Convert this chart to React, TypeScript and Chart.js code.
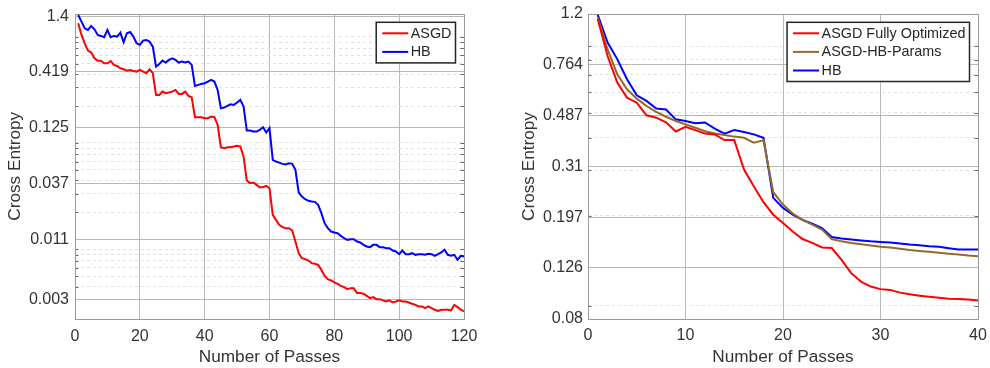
import React, { useEffect, useRef } from 'react';
import { Chart, registerables } from 'chart.js';

Chart.register(...registerables);

const FONT = '"Liberation Sans", Arial, Helvetica, sans-serif';
const TEXT = '#333333';
const GRID = '#b8b8b8';
const MINOR = '#e0e0e0';
const BOX = '#9a9a9a';

// ---------- Left panel data ----------
const leftPasses = Array.from({ length: 120 }, (_, i) => i + 1);
const leftAsgd = [
  1.202, 0.934, 0.779, 0.665, 0.637, 0.563, 0.535, 0.535, 0.505, 0.505,
  0.531, 0.488, 0.477, 0.453, 0.444, 0.431, 0.437, 0.428, 0.422, 0.437,
  0.422, 0.407, 0.444, 0.407, 0.2544, 0.2544, 0.2735, 0.2638, 0.2677, 0.2735,
  0.2836, 0.2601, 0.2601, 0.2735, 0.249, 0.2419, 0.1569, 0.1569, 0.1569, 0.1535,
  0.1535, 0.1592, 0.1569, 0.1329, 0.0819, 0.0802, 0.0819, 0.0819, 0.0831, 0.0843,
  0.0831, 0.0669, 0.0398, 0.0376, 0.0381, 0.0362, 0.0344, 0.0344, 0.0355, 0.0337,
  0.01891, 0.01697, 0.01523, 0.01448, 0.01417, 0.01417, 0.01347, 0.01061, 0.00824, 0.0074,
  0.00724, 0.00703, 0.00664, 0.00654, 0.0064, 0.00574, 0.00504, 0.00469, 0.00456, 0.00437,
  0.00424, 0.00406, 0.00395, 0.00378, 0.00386, 0.00386, 0.00347, 0.00347, 0.00342, 0.00327,
  0.00311, 0.00318, 0.00304, 0.00304, 0.00296, 0.00289, 0.00296, 0.00283, 0.00289, 0.00296,
  0.00289, 0.00289, 0.00283, 0.00275, 0.00269, 0.0026, 0.0026, 0.0025, 0.0026, 0.0025,
  0.00242, 0.00236, 0.00242, 0.00242, 0.00242, 0.00238, 0.00269, 0.00256, 0.00242, 0.00233,
];
const leftHb = [
  1.44, 1.246, 1.079, 1.04, 1.135, 1.056, 0.934, 0.914, 0.888, 1.04,
  0.888, 0.914, 0.901, 0.982, 0.796, 0.968, 0.996, 0.901, 0.779, 0.752,
  0.826, 0.838, 0.808, 0.725, 0.47, 0.498, 0.535, 0.513, 0.543, 0.563,
  0.543, 0.513, 0.524, 0.513, 0.524, 0.488, 0.3093, 0.3161, 0.323, 0.3278,
  0.3398, 0.3522, 0.3398, 0.2836, 0.1907, 0.1935, 0.2005, 0.2079, 0.2049, 0.2156,
  0.2284, 0.1977, 0.1175, 0.1175, 0.115, 0.115, 0.1192, 0.1263, 0.1126, 0.1236,
  0.0622, 0.06, 0.0587, 0.0571, 0.0563, 0.0579, 0.0571, 0.0501, 0.0307, 0.0281,
  0.02655, 0.02562, 0.02525, 0.02507, 0.02348, 0.01961, 0.01579, 0.01417, 0.01318, 0.0129,
  0.01272, 0.012, 0.01141, 0.011, 0.01116, 0.01116, 0.01061, 0.01039, 0.00987, 0.00953,
  0.00939, 0.00987, 0.00987, 0.00939, 0.00939, 0.00919, 0.00919, 0.00873, 0.00855, 0.00806,
  0.00873, 0.00806, 0.00806, 0.00824, 0.00795, 0.00806, 0.00806, 0.00795, 0.00812, 0.00806,
  0.00778, 0.00806, 0.00836, 0.00886, 0.00795, 0.00778, 0.00795, 0.00713, 0.00778, 0.00767,
];
const leftYTicks = [1.4, 0.419, 0.125, 0.037, 0.011, 0.003];
const leftYLabels = ['1.4', '0.419', '0.125', '0.037', '0.011', '0.003'];

// ---------- Right panel data ----------
const rightPasses = Array.from({ length: 40 }, (_, i) => i + 1);
const rightAsgdFull = [
  1.148, 0.828, 0.653, 0.571, 0.546, 0.488, 0.478, 0.459, 0.423, 0.441,
  0.428, 0.415, 0.412, 0.392, 0.392, 0.3017, 0.26, 0.2256, 0.202, 0.1876,
  0.174, 0.1627, 0.1572, 0.151, 0.1502, 0.1353, 0.1202, 0.1115, 0.1067, 0.1043,
  0.1036, 0.1011, 0.0996, 0.0984, 0.0974, 0.0966, 0.0958, 0.0955, 0.0952, 0.0943,
];
const rightAsgdHbParams = [
  1.165, 0.878, 0.703, 0.615, 0.566, 0.53, 0.503, 0.482, 0.464, 0.4505,
  0.437, 0.424, 0.415, 0.41, 0.404, 0.4, 0.383, 0.391, 0.2466, 0.221,
  0.204, 0.193, 0.1849, 0.1769, 0.1627, 0.1594, 0.1572, 0.1554, 0.1537, 0.1519,
  0.151, 0.1494, 0.1476, 0.1464, 0.1452, 0.144, 0.1428, 0.1417, 0.1406, 0.1398,
];
const rightHb = [
  1.19, 0.933, 0.804, 0.672, 0.583, 0.555, 0.518, 0.514, 0.471, 0.464,
  0.455, 0.458, 0.434, 0.415, 0.428, 0.421, 0.412, 0.4, 0.2345, 0.2145,
  0.202, 0.193, 0.1865, 0.1795, 0.1656, 0.1636, 0.1621, 0.1607, 0.1594, 0.1585,
  0.1577, 0.1563, 0.1549, 0.154, 0.1527, 0.1519, 0.15, 0.1484, 0.1484, 0.1484,
];
const rightYTicks = [1.2, 0.764, 0.487, 0.31, 0.197, 0.126, 0.08];
const rightYLabels = ['1.2', '0.764', '0.487', '0.31', '0.197', '0.126', '0.08'];

type Series = { label: string; color: string; values: number[] };

interface PanelCfg {
  passes: number[];
  series: Series[];
  xMax: number;
  xStep: number;
  yMin: number;
  yMax: number;
  yTicks: number[];
  yLabels: string[];
  yAxisW: number;
  xAxisH: number;
  padRight: number;
  padTop: number;
  yTitlePad: number;
  xTickPad: number;
  yTickPad: number;
}

function minorValues(min: number, max: number, majors: number[]) {
  const out: number[] = [];
  for (let k = -5; k <= 2; k++) {
    for (let m = 2; m <= 9; m++) {
      const v = m * Math.pow(10, k);
      if (v > min && v < max && !majors.some((t) => Math.abs(t - v) / t < 1e-6)) out.push(v);
    }
  }
  return out;
}

function buildConfig(cfg: PanelCfg): any {
  const isMajor = (v: number) => cfg.yTicks.some((t) => Math.abs(t - v) / t < 1e-6);
  const minors = minorValues(cfg.yMin, cfg.yMax, cfg.yTicks);
  const allTicks = [...cfg.yTicks, ...minors].sort((a, b) => a - b);

  const boxPlugin = {
    id: 'boxPlugin',
    beforeDatasetsDraw(chart: any) {
      const { ctx, chartArea: ca } = chart;
      const ys = chart.scales.y;
      ctx.save();
      ctx.strokeStyle = '#666666';
      ctx.lineWidth = 1;
      ys.ticks.forEach((t: any) => {
        if (isMajor(t.value)) return;
        const py = Math.round(ys.getPixelForValue(t.value)) + 0.5;
        ctx.beginPath();
        ctx.moveTo(ca.left, py);
        ctx.lineTo(ca.left + 3.5, py);
        ctx.moveTo(ca.right, py);
        ctx.lineTo(ca.right - 3.5, py);
        ctx.stroke();
      });
      ctx.strokeStyle = BOX;
      ctx.lineWidth = 1;
      ctx.strokeRect(
        Math.round(ca.left) + 0.5,
        Math.round(ca.top) + 0.5,
        Math.round(ca.right - ca.left),
        Math.round(ca.bottom - ca.top)
      );
      ctx.restore();
    },
  };

  const legendPlugin = {
    id: 'boxLegend',
    afterDraw(chart: any) {
      const { ctx, chartArea: ca } = chart;
      const items = chart.data.datasets.map((d: any) => ({ label: d.label, color: d.borderColor }));
      ctx.save();
      ctx.font = `14.4px ${FONT}`;
      const tw = Math.max(...items.map((i: any) => ctx.measureText(i.label).width));
      const w = 6 + 26 + 2.5 + tw + 4;
      const rowH = 18.6;
      const h = 22 + (items.length - 1) * rowH;
      const x0 = ca.right - 8.5 - w;
      const y0 = ca.top + 8.3;
      ctx.fillStyle = '#ffffff';
      ctx.fillRect(x0, y0, w, h);
      ctx.strokeStyle = '#262626';
      ctx.lineWidth = 1.5;
      ctx.strokeRect(x0, y0, w, h);
      items.forEach((it: any, i: number) => {
        const yy = y0 + 11 + i * rowH;
        ctx.strokeStyle = it.color;
        ctx.lineWidth = 2;
        ctx.beginPath();
        ctx.moveTo(x0 + 6, yy);
        ctx.lineTo(x0 + 32, yy);
        ctx.stroke();
        ctx.fillStyle = '#262626';
        ctx.textBaseline = 'middle';
        ctx.textAlign = 'left';
        ctx.fillText(it.label, x0 + 34.5, yy + 0.5);
      });
      ctx.restore();
    },
  };

  return {
    type: 'line',
    data: {
      datasets: cfg.series.map((s) => ({
        label: s.label,
        data: cfg.passes.map((p, i) => ({ x: p, y: s.values[i] })),
        borderColor: s.color,
        backgroundColor: s.color,
        borderWidth: 2,
        pointRadius: 0,
        tension: 0,
        fill: false,
      })),
    },
    options: {
      responsive: false,
      animation: false,
      devicePixelRatio: 1,
      layout: { padding: { left: 0, right: cfg.padRight, top: cfg.padTop, bottom: 0 } },
      plugins: { legend: { display: false }, tooltip: { enabled: false } },
      scales: {
        x: {
          type: 'linear',
          min: 0,
          max: cfg.xMax,
          afterFit: (s: any) => {
            s.height = cfg.xAxisH;
            s.paddingLeft = 0;
            s.paddingRight = 0;
          },
          ticks: {
            stepSize: cfg.xStep,
            color: TEXT,
            font: { family: FONT, size: 16 },
            padding: cfg.xTickPad,
            maxRotation: 0,
            autoSkip: false,
          },
          grid: { color: GRID, lineWidth: 1, drawTicks: false },
          border: { display: false },
          title: {
            display: true,
            text: 'Number of Passes',
            color: TEXT,
            font: { family: FONT, size: 17.2 },
            padding: { top: 0, bottom: 0.7 },
          },
        },
        y: {
          type: 'logarithmic',
          min: cfg.yMin,
          max: cfg.yMax,
          afterFit: (s: any) => {
            s.width = cfg.yAxisW;
            s.paddingTop = 0;
            s.paddingBottom = 0;
          },
          afterBuildTicks: (s: any) => {
            s.ticks = allTicks.map((v) => ({ value: v }));
          },
          ticks: {
            color: TEXT,
            font: { family: FONT, size: 16 },
            padding: cfg.yTickPad,
            autoSkip: false,
            callback: (v: number) => {
              const idx = cfg.yTicks.findIndex((t) => Math.abs(t - v) / t < 1e-6);
              return idx >= 0 ? cfg.yLabels[idx] : '';
            },
          },
          grid: {
            drawTicks: false,
            lineWidth: 1,
            color: (c: any) => (c.tick && !isMajor(c.tick.value) ? MINOR : GRID),
          },
          border: {
            display: false,
            dash: (c: any) => (c.tick && !isMajor(c.tick.value) ? [3, 3] : []),
          },
          title: {
            display: true,
            text: 'Cross Entropy',
            color: TEXT,
            font: { family: FONT, size: 17.2 },
            padding: { top: cfg.yTitlePad, bottom: 0 },
          },
        },
      },
    },
    plugins: [boxPlugin, legendPlugin],
  };
}

function Panel({ cfg, left }: { cfg: PanelCfg; left: number }) {
  const ref = useRef<HTMLCanvasElement | null>(null);
  useEffect(() => {
    if (!ref.current) return;
    const chart = new Chart(ref.current, buildConfig(cfg));
    return () => chart.destroy();
  }, []);
  return (
    <div style={{ position: 'absolute', left, top: 0, width: 495, height: 368 }}>
      <canvas ref={ref} width={495} height={368} style={{ display: 'block', width: 495, height: 368 }} />
    </div>
  );
}

const leftCfg: PanelCfg = {
  passes: leftPasses,
  series: [
    { label: 'ASGD', color: '#ff0000', values: leftAsgd },
    { label: 'HB', color: '#0000ff', values: leftHb },
  ],
  xMax: 120,
  xStep: 20,
  yMin: 0.002,
  yMax: 1.47,
  yTicks: leftYTicks,
  yLabels: leftYLabels,
  yAxisW: 75,
  xAxisH: 49.5,
  padRight: 31,
  padTop: 14,
  yTitlePad: 5.2,
  xTickPad: 8,
  yTickPad: 6,
};

const rightCfg: PanelCfg = {
  passes: rightPasses,
  series: [
    { label: 'ASGD Fully Optimized', color: '#ff0000', values: rightAsgdFull },
    { label: 'ASGD-HB-Params', color: '#96692a', values: rightAsgdHbParams },
    { label: 'HB', color: '#0000ff', values: rightHb },
  ],
  xMax: 40,
  xStep: 10,
  yMin: 0.08,
  yMax: 1.2,
  yTicks: rightYTicks,
  yLabels: rightYLabels,
  yAxisW: 93,
  xAxisH: 49,
  padRight: 12,
  padTop: 14,
  yTitlePad: 23.7,
  xTickPad: 7,
  yTickPad: 5,
};

export default function App() {
  return (
    <div style={{ position: 'fixed', left: 0, top: 0, width: 990, height: 368, background: '#ffffff' }}>
      <Panel cfg={leftCfg} left={0} />
      <Panel cfg={rightCfg} left={495} />
    </div>
  );
}
